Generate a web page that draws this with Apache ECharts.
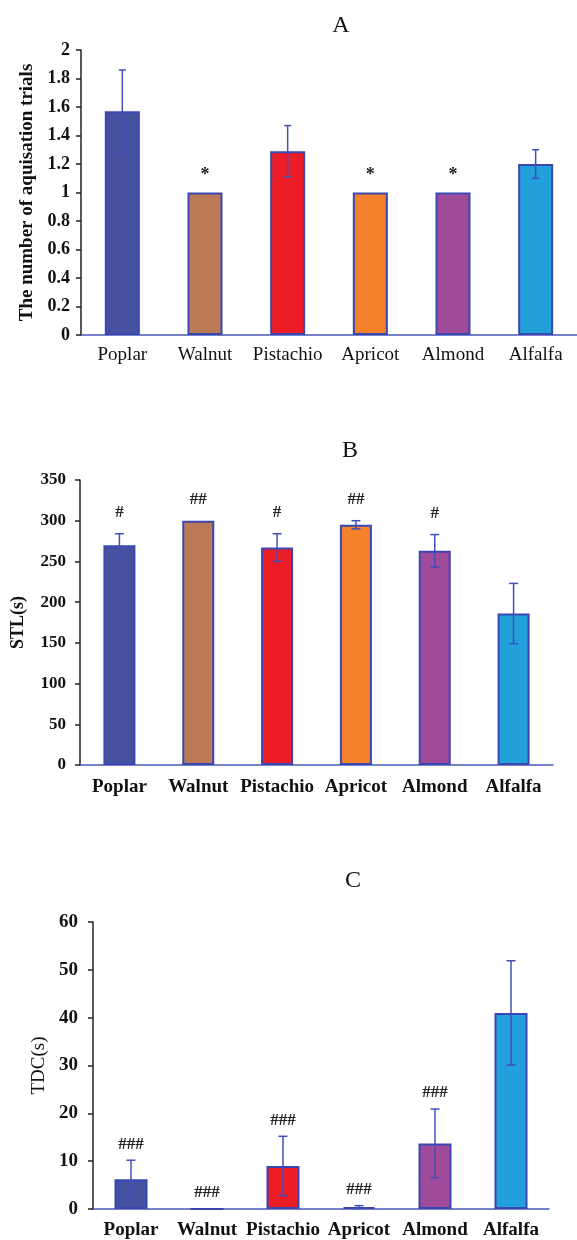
<!DOCTYPE html>
<html>
<head>
<meta charset="utf-8">
<script src="https://cdn.jsdelivr.net/npm/echarts@6/dist/echarts.min.js"></script>
<style>
html,body{margin:0;padding:0;background:#fff;}
#main{width:577px;height:1240px;}
</style>
</head>
<body>
<div id="main"></div>
<script>
const categories = ['Poplar', 'Walnut', 'Pistachio', 'Apricot', 'Almond', 'Alfalfa'];
const barColors = ['#4652a0', '#b97a55', '#ec1d26', '#f5822b', '#a04a9a', '#21a0da'];

const trialsMean = [1.57, 1.0, 1.29, 1.0, 1.0, 1.2];
const trialsErr = [0.29, 0, 0.18, 0, 0, 0.1];
const trialsMarks = ['', '*', '', '*', '*', ''];
const trialsTicks = [0, 0.2, 0.4, 0.6, 0.8, 1, 1.2, 1.4, 1.6, 1.8, 2];

const stlMean = [270, 300, 267, 295, 263, 186];
const stlErr = [14, 0, 17, 5, 20, 37];
const stlMarks = ['#', '##', '#', '##', '#', ''];
const stlTicks = [0, 50, 100, 150, 200, 250, 300, 350];

const tdcMean = [6.2, 0, 9, 0.4, 13.7, 41];
const tdcErr = [4, 0, 6.2, 0.3, 7.2, 10.9];
const tdcMarks = ['###', '###', '###', '###', '###', ''];
const tdcTicks = [0, 10, 20, 30, 40, 50, 60];

const titles = ['A', 'B', 'C'];
const yNames = ['The number of aquisation trials', 'STL(s)', 'TDC(s)'];

const SERIF = '"Liberation Serif", "Times New Roman", serif';
const BORDER = '#3a46b2';
const ERRC = '#4050b8';

const panels = [
  {mean: trialsMean, err: trialsErr, marks: trialsMarks, ticks: trialsTicks,
   grid: {left: 81, width: 497, top: 50, height: 285},
   barW: 35, capW: 3.5, markOff: 17, markSize: 18, catBold: 'normal', catSize: 19, catMargin: 11,
   tickSize: 18, nameSize: 19, nameBold: 'bold', nameGap: 38, tickMargin: 11},
  {mean: stlMean, err: stlErr, marks: stlMarks, ticks: stlTicks,
   grid: {left: 80, width: 473, top: 480, height: 285},
   barW: 32, capW: 4.5, markOff: 21, markSize: 17, catBold: 'bold', catSize: 19, catMargin: 13,
   tickSize: 17, nameSize: 18, nameBold: 'bold', nameGap: 53, tickMargin: 14},
  {mean: tdcMean, err: tdcErr, marks: tdcMarks, ticks: tdcTicks,
   grid: {left: 93, width: 456, top: 922, height: 288},
   barW: 33, capW: 4.5, markOff: 16, markSize: 17, catBold: 'bold', catSize: 19, catMargin: 12,
   tickSize: 19, nameSize: 19, nameBold: 'normal', nameGap: 42, tickMargin: 15}
];

const titlePos = [{x: 336, y: 9}, {x: 345, y: 434}, {x: 348, y: 864}];

const option = {
  animation: false,
  backgroundColor: '#fff',
  title: titles.map((t, i) => ({
    text: t, left: titlePos[i].x, top: titlePos[i].y, textAlign: 'center',
    textStyle: {fontFamily: SERIF, fontSize: 24, fontWeight: 'normal', color: '#111'}
  })),
  grid: panels.map(p => p.grid),
  xAxis: panels.map((p, i) => ({
    type: 'category', gridIndex: i, data: categories,
    axisLine: {lineStyle: {color: '#4a5ab8', width: 1.5}},
    axisTick: {show: false},
    axisLabel: {fontFamily: SERIF, fontSize: p.catSize, fontWeight: p.catBold, color: '#111', margin: p.catMargin, interval: 0},
    splitLine: {show: false}
  })),
  yAxis: panels.map((p, i) => ({
    type: 'value', gridIndex: i,
    min: p.ticks[0], max: p.ticks[p.ticks.length - 1],
    interval: p.ticks[1] - p.ticks[0],
    name: yNames[i], nameLocation: 'middle', nameGap: p.nameGap, nameRotate: 90,
    nameTextStyle: {fontFamily: SERIF, fontSize: p.nameSize, fontWeight: p.nameBold, color: '#111'},
    axisLine: {show: true, lineStyle: {color: '#222', width: 1.5}},
    axisTick: {show: true, inside: false, length: 5, lineStyle: {color: '#222', width: 1.5}},
    axisLabel: {fontFamily: SERIF, fontSize: p.tickSize, fontWeight: 'bold', color: '#111', margin: p.tickMargin},
    splitLine: {show: false}
  })),
  series: []
};

panels.forEach((p, gi) => {
  option.series.push({
    type: 'bar', xAxisIndex: gi, yAxisIndex: gi, barWidth: p.barW, z: 2,
    data: p.mean.map((v, k) => ({
      value: v,
      itemStyle: {color: barColors[k], borderColor: BORDER, borderWidth: 2}
    }))
  });
  option.series.push({
    type: 'custom', xAxisIndex: gi, yAxisIndex: gi, z: 5,
    data: p.mean.map((v, k) => [k, v, p.err[k]]),
    renderItem: function (params, api) {
      const k = api.value(0), m = api.value(1), e = api.value(2);
      if (!e) return null;
      const hi = api.coord([k, m + e]);
      const lo = api.coord([k, m - e]);
      const hw = p.capW;
      const st = {stroke: ERRC, lineWidth: 1.5};
      return {type: 'group', children: [
        {type: 'line', shape: {x1: hi[0], y1: hi[1], x2: lo[0], y2: lo[1]}, style: st},
        {type: 'line', shape: {x1: hi[0] - hw, y1: hi[1], x2: hi[0] + hw, y2: hi[1]}, style: st},
        {type: 'line', shape: {x1: lo[0] - hw, y1: lo[1], x2: lo[0] + hw, y2: lo[1]}, style: st}
      ]};
    }
  });
  option.series.push({
    type: 'custom', xAxisIndex: gi, yAxisIndex: gi, z: 6,
    data: p.mean.map((v, k) => [k, v + p.err[k]]),
    renderItem: function (params, api) {
      const txt = p.marks[params.dataIndex];
      if (!txt) return null;
      const pt = api.coord([api.value(0), api.value(1)]);
      return {type: 'text', x: pt[0], y: pt[1] - p.markOff,
        style: {text: txt, x: 0, y: 0, align: 'center', verticalAlign: 'middle',
          font: 'bold ' + p.markSize + 'px ' + SERIF, fill: '#222'}};
    }
  });
});

const chart = echarts.init(document.getElementById('main'), null, {renderer: 'canvas'});
chart.setOption(option);
</script>
</body>
</html>
